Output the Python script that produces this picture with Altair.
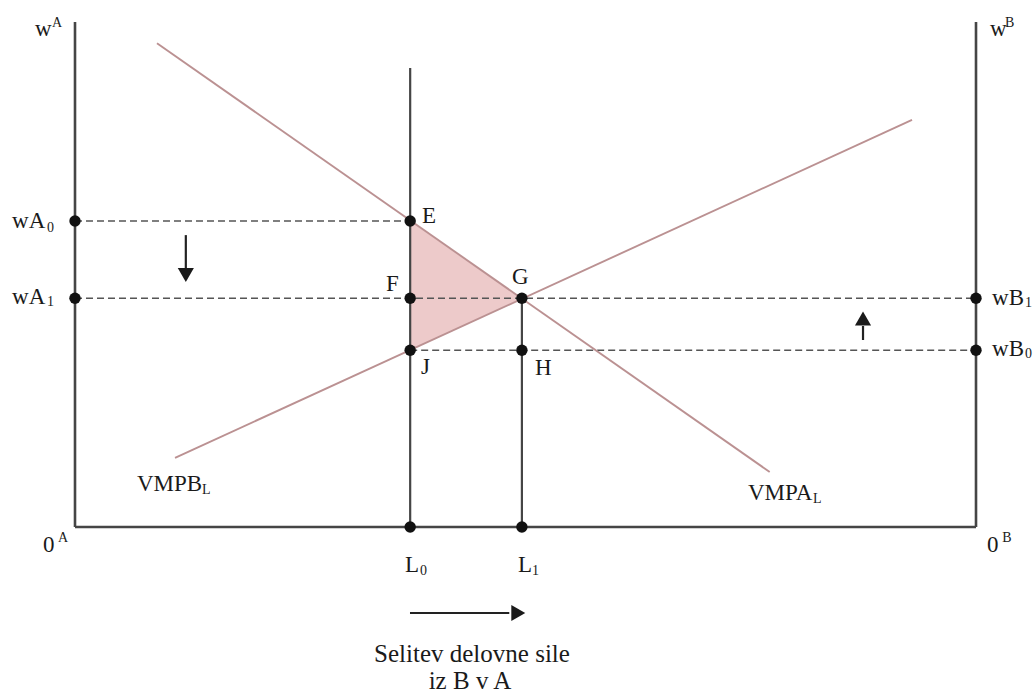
import altair as alt
import pandas as pd

# ---- values (L: labour 0^A..0^B = 0..100, w: wage 0..100) ----
L0, L1 = 37.2, 49.6
wA0, w1, wB0 = 60.6, 45.3, 35.0
L_max, w_top, L0_top = 100.0, 100.0, 90.9
vmpa_L = [9.1, 77.1]
vmpa_w = [95.8, 10.9]
vmpb_L = [11.1, 92.9]
vmpb_w = [13.7, 80.6]

# scale domains so the plot area spans the whole canvas
X_DOM = [-8.324, 106.548]
Y_DOM = [-33.069, 104.356]
W, H = 1035, 694
FONT = "Liberation Serif"

def xq(f="x"):
    return alt.X(f"{f}:Q", scale=alt.Scale(domain=X_DOM, nice=False, zero=False), axis=None)

def yq(f="y"):
    return alt.Y(f"{f}:Q", scale=alt.Scale(domain=Y_DOM, nice=False, zero=False), axis=None)

# triangle E-G-J (welfare gain)
tri = pd.DataFrame({"x": [L0, L1], "y": [wA0, w1], "y2": [wB0, w1]})
area = alt.Chart(tri).mark_area(color="#edcaca", opacity=1).encode(
    x=xq(), y=yq(), y2="y2:Q")

# dashed horizontal lines
dashed = pd.DataFrame({"x": [0, 0, L0], "x2": [L0, L_max, L_max], "y": [wA0, w1, wB0]})
dash_l = alt.Chart(dashed).mark_rule(color="#555555", strokeWidth=1.6, strokeDash=[7, 4]).encode(
    x=xq(), x2="x2:Q", y=yq())

# solid frame and verticals
solid = pd.DataFrame({
    "x": [0, L_max, 0, L0, L1],
    "x2": [0, L_max, L_max, L0, L1],
    "y": [0, 0, 0, 0, 0],
    "y2": [w_top, w_top, 0, L0_top, w1],
    "sw": [2.6, 2.6, 2.6, 2.2, 2.2],
})
solid_l = alt.Chart(solid).mark_rule(color="#454545").encode(
    x=xq(), x2="x2:Q", y=yq(), y2="y2:Q",
    strokeWidth=alt.StrokeWidth("sw:Q", scale=None))

# VMP curves
curves = pd.DataFrame({
    "x": [vmpa_L[0], vmpb_L[0]], "x2": [vmpa_L[1], vmpb_L[1]],
    "y": [vmpa_w[0], vmpb_w[0]], "y2": [vmpa_w[1], vmpb_w[1]],
})
curve_l = alt.Chart(curves).mark_rule(color="#bb9192", strokeWidth=1.9).encode(
    x=xq(), x2="x2:Q", y=yq(), y2="y2:Q")

# arrows: shafts and heads
shafts = pd.DataFrame({
    "x": [12.3, 87.46, 37.18], "x2": [12.3, 87.46, 48.2],
    "y": [57.8, 37.03, -17.03], "y2": [51.2, 39.8, -17.03],
})
shaft_l = alt.Chart(shafts).mark_rule(color="#222222", strokeWidth=2.2).encode(
    x=xq(), x2="x2:Q", y=yq(), y2="y2:Q")
heads = pd.DataFrame({
    "x": [12.3, 87.46, 49.2], "y": [49.9, 41.3, -17.03],
    "shape": ["triangle-down", "triangle-up", "triangle-right"],
})
head_l = alt.Chart(heads).mark_point(filled=True, color="#1a1a1a", size=260, opacity=1).encode(
    x=xq(), y=yq(), shape=alt.Shape("shape:N", scale=None))

# black dots
dots = pd.DataFrame({
    "x": [L0, L0, L1, L0, L1, 0, 0, L_max, L_max, L0, L1],
    "y": [wA0, w1, w1, wB0, wB0, wA0, w1, w1, wB0, 0, 0],
})
dot_l = alt.Chart(dots).mark_circle(color="#111111", size=130, opacity=1).encode(x=xq(), y=yq())

# labels (left-aligned, main size)
main_txt = ["w", "wA", "wA", "w", "wB", "wB", "E", "F", "G", "J", "H",
            "VMPB", "VMPA", "0", "0", "L", "L"]
main_x = [-4.44, -6.99, -6.99, 101.55, 101.78, 101.78, 38.51, 34.52, 48.50, 38.40, 51.05,
          6.88, 74.69, -3.55, 101.22, 36.63, 49.17]
main_y = [98.61, 60.59, 45.54, 98.61, 45.35, 35.25, 61.58, 48.12, 49.50, 31.68, 31.49,
          8.51, 6.73, -3.56, -3.56, -7.52, -7.52]
small_txt = ["A", "0", "1", "B", "1", "0", "L", "L", "A", "B", "0", "1"]
small_x = [-2.55, -3.11, -3.11, 103.22, 105.44, 105.44, 14.10, 81.90, -1.90, 102.90, 38.29, 50.72]
small_y = [99.80, 59.21, 44.55, 99.80, 44.36, 34.26, 7.33, 5.54, -2.18, -2.18, -8.71, -8.71]
cap_txt = ["Selitev delovne sile", "iz B v A"]
cap_x = [44.06, 43.84]
cap_y = [-25.15, -30.50]

main_l = alt.Chart(pd.DataFrame({"x": main_x, "y": main_y, "t": main_txt})).mark_text(
    font=FONT, fontSize=23, align="left", baseline="middle", color="#1a1a1a").encode(
    x=xq(), y=yq(), text="t:N")
small_l = alt.Chart(pd.DataFrame({"x": small_x, "y": small_y, "t": small_txt})).mark_text(
    font=FONT, fontSize=14, align="left", baseline="middle", color="#1a1a1a").encode(
    x=xq(), y=yq(), text="t:N")
cap_l = alt.Chart(pd.DataFrame({"x": cap_x, "y": cap_y, "t": cap_txt})).mark_text(
    font=FONT, fontSize=25, align="center", baseline="middle", color="#1a1a1a").encode(
    x=xq(), y=yq(), text="t:N")

chart = alt.layer(area, dash_l, solid_l, curve_l, shaft_l, head_l, dot_l,
                  main_l, small_l, cap_l).properties(
    width=W, height=H, padding=0, autosize=alt.AutoSizeParams(type="none"),
    background="white"
).configure_view(stroke=None)

chart.save("out.html", embed_options={"renderer": "svg", "actions": False})
